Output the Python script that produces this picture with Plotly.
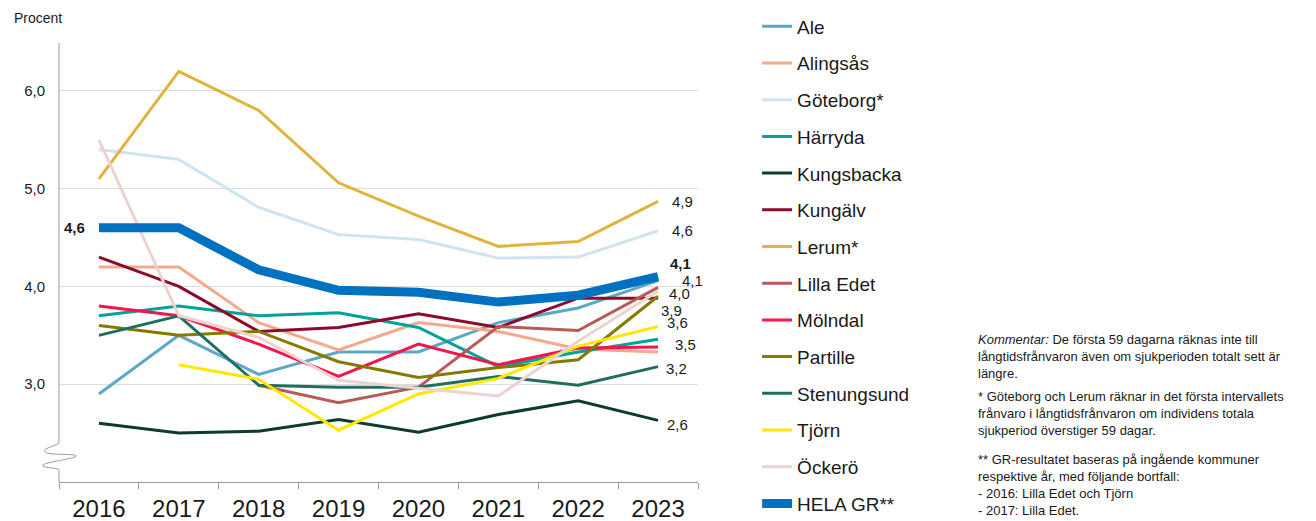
import plotly.graph_objects as go

# Långtidsfrånvaro, procent
years = ["2016", "2017", "2018", "2019", "2020", "2021", "2022", "2023"]

ale = [2.90, 3.50, 3.10, 3.33, 3.33, 3.63, 3.78, 4.06]
alingsas = [4.20, 4.20, 3.63, 3.35, 3.63, 3.54, 3.36, 3.33]
goteborg = [5.40, 5.30, 4.81, 4.53, 4.48, 4.29, 4.30, 4.57]
harryda = [3.70, 3.80, 3.70, 3.73, 3.58, 3.18, 3.33, 3.46]
kungsbacka = [2.60, 2.50, 2.52, 2.64, 2.51, 2.69, 2.83, 2.63]
kungalv = [4.30, 4.00, 3.54, 3.58, 3.72, 3.58, 3.88, 3.88]
lerum = [5.10, 6.20, 5.80, 5.06, 4.72, 4.41, 4.46, 4.87]
lilla_edet = [None, None, 2.99, 2.81, 2.97, 3.59, 3.55, 3.99]
molndal = [3.80, 3.70, 3.41, 3.08, 3.41, 3.20, 3.37, 3.38]
partille = [3.60, 3.50, 3.54, 3.23, 3.07, 3.17, 3.25, 3.90]
stenungsund = [3.50, 3.70, 2.99, 2.97, 2.97, 3.08, 2.99, 3.18]
tjorn = [None, 3.20, 3.05, 2.53, 2.90, 3.06, 3.39, 3.59]
ockero = [5.50, 3.70, 3.48, 3.04, 2.96, 2.88, 3.44, 3.95]
hela_gr = [4.60, 4.60, 4.17, 3.96, 3.94, 3.84, 3.91, 4.10]

series = [
    ("Ale", ale, "#5BA8C8"),
    ("Alingsås", alingsas, "#F5A98A"),
    ("Göteborg*", goteborg, "#CFE4EF"),
    ("Härryda", harryda, "#00A398"),
    ("Kungsbacka", kungsbacka, "#0D3B2E"),
    ("Kungälv", kungalv, "#8C0A2A"),
    ("Lerum*", lerum, "#E0B43C"),
    ("Lilla Edet", lilla_edet, "#B85A55"),
    ("Mölndal", molndal, "#F2164A"),
    ("Partille", partille, "#857A00"),
    ("Stenungsund", stenungsund, "#1F6F5E"),
    ("Tjörn", tjorn, "#FFE800"),
    ("Öckerö", ockero, "#EDD3CF"),
]

FONT = "Liberation Sans, Arial, sans-serif"
TXT = "#1a1a1a"

fig = go.Figure()
for name, vals, col in series:
    fig.add_trace(go.Scatter(
        x=years, y=vals, name=name, mode="lines",
        line=dict(color=col, width=3),
        legendgroup=name, connectgaps=False,
    ))

fig.add_trace(go.Scatter(
    x=years, y=hela_gr, name="HELA GR**", mode="lines",
    line=dict(color="#0070C0", width=9),
    legendgroup="HELA GR**",
))


def fmt(v):
    return f"{v:.1f}".replace(".", ",")


last = len(years) - 1

# värdeetiketter vid 2023 (data, xshift, yshift, fet)
end_labels = [
    (lerum, 12, 0, False),
    (goteborg, 12, 0, False),
    (hela_gr, 10, 13, True),
    (ale, 22, 0, False),
    (lilla_edet, 9, -6, False),
    (kungalv, 1, -12, False),
    (tjorn, 7, 4, False),
    (harryda, 15, -5, False),
    (stenungsund, 6, -2, False),
    (kungsbacka, 7, -4, False),
]
annotations = []
for vals, xs, ys, bold in end_labels:
    t = fmt(vals[-1])
    annotations.append(dict(
        x=last, y=vals[-1], xref="x", yref="y",
        text=f"<b>{t}</b>" if bold else t,
        showarrow=False, xanchor="left", yanchor="middle",
        xshift=xs, yshift=ys,
        font=dict(size=15, color=TXT, family=FONT),
    ))

annotations.append(dict(
    x=0, y=hela_gr[0], xref="x", yref="y",
    text=f"<b>{fmt(hela_gr[0])}</b>", showarrow=False,
    xanchor="right", yanchor="middle", xshift=-12,
    font=dict(size=15, color=TXT, family=FONT),
))

annotations.append(dict(
    x=-0.0736, y=1.057, xref="paper", yref="paper", text="Procent",
    showarrow=False, xanchor="left", yanchor="middle",
    font=dict(size=14, color=TXT, family=FONT),
))

notes = [
    ("<i>Kommentar:</i> De första 59 dagarna räknas inte till<br>"
     "långtidsfrånvaron även om sjukperioden totalt sett är<br>längre.", 0.346),
    ("* Göteborg och Lerum räknar in det första intervallets<br>"
     "frånvaro i långtidsfrånvaron om individens totala<br>"
     "sjukperiod överstiger 59 dagar.", 0.216),
    ("** GR-resultatet baseras på ingående kommuner<br>"
     "respektive år, med följande bortfall:<br>"
     "- 2016: Lilla Edet och Tjörn<br>- 2017: Lilla Edet.", 0.073),
]
for txt, ypos in notes:
    annotations.append(dict(
        x=1.435, y=ypos, xref="paper", yref="paper", text=txt,
        showarrow=False, xanchor="left", yanchor="top", align="left",
        font=dict(size=13, color=TXT, family=FONT),
    ))

# y-axel med brytmarkering
AX = "#9a9a9a"
shapes = [
    dict(type="line", xref="paper", yref="paper", x0=0, x1=0, y0=0, y1=0.027,
         line=dict(color=AX, width=1)),
    dict(type="line", xref="paper", yref="paper", x0=0, x1=0, y0=0.089, y1=1,
         line=dict(color=AX, width=1)),
    dict(type="path", xref="paper", yref="paper", xsizemode="pixel", ysizemode="pixel",
         xanchor=0, yanchor=0.058,
         path="M 0,13.5 C -4,10 -18,8 -14,4.5 C -10,1 20,3 17,0.5 "
              "C 14,-3 -20,-6 -16,-9.5 C -13,-12 0,-11 0,-13.5",
         line=dict(color=AX, width=1)),
]

# sidan har 8 px marginal i body, därför lite mindre figur
fig.update_layout(
    width=1308, height=513,
    margin=dict(l=51, r=618, t=35, b=39, autoexpand=False),
    paper_bgcolor="white", plot_bgcolor="white",
    separators=", ",
    font=dict(family=FONT, color=TXT),
    showlegend=True,
    legend=dict(
        x=1.0925, y=1.081, xanchor="left", yanchor="top",
        font=dict(size=19, color=TXT, family=FONT),
        tracegroupgap=9, traceorder="grouped", maxheight=600,
        bgcolor="rgba(0,0,0,0)",
    ),
    annotations=annotations,
    shapes=shapes,
    xaxis=dict(
        type="category", range=[-0.5, 7.5],
        showline=True, linecolor=AX, linewidth=1,
        ticks="outside", tickson="boundaries", ticklen=6, tickcolor=AX,
        ticklabelstandoff=5,
        showgrid=False, tickfont=dict(size=24, color=TXT, family=FONT),
    ),
    yaxis=dict(
        range=[2.0, 6.49], tickvals=[3, 4, 5, 6], tickformat=".1f",
        showline=False, showgrid=True, gridcolor="#dcdcdc", gridwidth=1,
        zeroline=False, ticks="", ticklabelstandoff=13,
        tickfont=dict(size=15, color=TXT, family=FONT),
    ),
)

fig.write_html("out.html")
